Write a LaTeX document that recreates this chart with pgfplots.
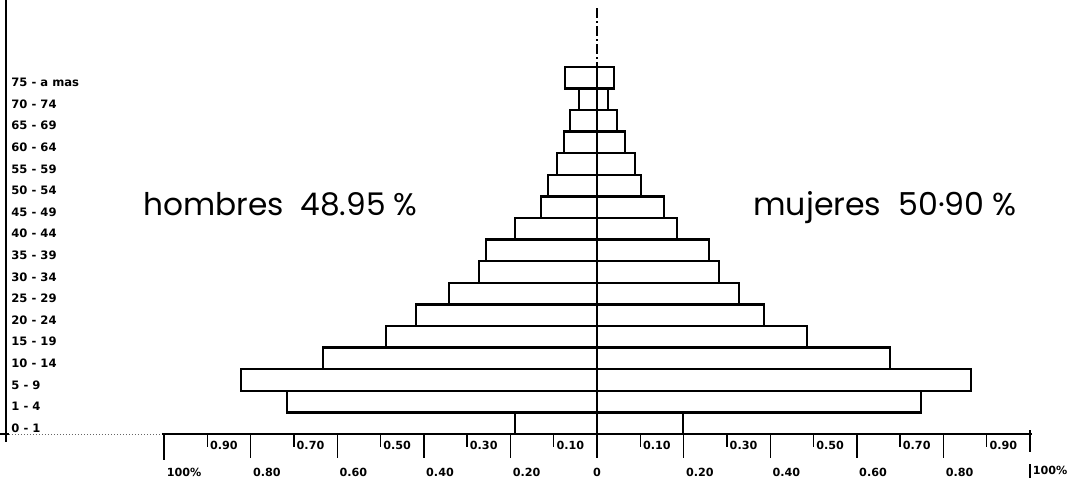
\documentclass[border=0pt]{standalone}
\usepackage{pgfplots}
\pgfplotsset{compat=1.18}
\usepackage{fontspec}
\setmainfont{DejaVu Sans}
\newfontfamily\bigf{Poppins}
\newcommand{\lab}{\fontsize{5.8}{6.5}\selectfont\bfseries}
\newcommand{\tlab}{\fontsize{5.6}{6.5}\selectfont\bfseries}
\begin{document}
\begin{tikzpicture}
\begin{axis}[width=536pt,height=239.5pt,scale only axis,
  xmin=-1.37875,xmax=1.09700,ymin=-2.58333,ymax=19.59259,
  axis lines=none, clip=false]
% hombres (left)
\addplot[xbar,bar width=1,bar shift=0pt,draw=black,fill=none,line width=1.2pt,line join=miter]
 coordinates {(-0.189,0) (-0.716,1) (-0.822,2) (-0.633,3) (-0.487,4) (-0.418,5)
  (-0.342,6) (-0.273,7) (-0.256,8) (-0.189,9) (-0.129,10) (-0.113,11)
  (-0.092,12) (-0.076,13) (-0.062,14) (-0.042,15) (-0.074,16)};
% mujeres (right)
\addplot[xbar,bar width=1,bar shift=0pt,draw=black,fill=none,line width=1.2pt,line join=miter]
 coordinates {(0.199,0) (0.748,1) (0.864,2) (0.677,3) (0.485,4) (0.386,5)
  (0.328,6) (0.282,7) (0.259,8) (0.185,9) (0.155,10) (0.102,11)
  (0.088,12) (0.065,13) (0.046,14) (0.025,15) (0.039,16)};
% centre dash-dot line
\draw[line width=0.8pt,dash pattern=on 5pt off 1.5pt on 1pt off 1.5pt] (axis cs:0,19.22) -- (axis cs:0,-0.5);
% left vertical line and small tick
\draw[line width=1pt] (axis cs:-1.3649,19.5926) -- (axis cs:-1.3649,-0.87);
\draw[line width=0.8pt] (axis cs:-1.3788,-0.5) -- (axis cs:-1.358,-0.5);
\draw[densely dotted,line width=0.5pt,black!60] (axis cs:-1.358,-0.5) -- (axis cs:-1.009,-0.5);
% bottom axis
\draw[line width=1pt] (axis cs:-1.005,-0.5) -- (axis cs:1.005,-0.5);
\pgfplotsinvokeforeach{-0.9,-0.7,-0.5,-0.3,-0.1,0.1,0.3,0.5,0.7,0.9}{
  \draw[line width=0.7pt] (axis cs:#1,-0.5) -- (axis cs:#1,-1.102);}
\pgfplotsinvokeforeach{-0.8,-0.6,-0.4,-0.2,0,0.2,0.4,0.6,0.8}{
  \draw[line width=0.7pt] (axis cs:#1,-0.5) -- (axis cs:#1,-1.611);}
\draw[line width=0.7pt] (axis cs:-1.0,-0.5) -- (axis cs:-1.0,-1.704);
\draw[line width=0.7pt] (axis cs:1.0,-0.315) -- (axis cs:1.0,-1.333);
\draw[line width=0.6pt] (axis cs:1.0,-1.90) -- (axis cs:1.0,-2.55);
% odd labels (upper row)
\node[anchor=west,inner sep=0pt,xshift=1.2pt] at (axis cs:-0.9,-1.009) {\tlab 0.90};
\node[anchor=west,inner sep=0pt,xshift=1.2pt] at (axis cs:-0.7,-1.009) {\tlab 0.70};
\node[anchor=west,inner sep=0pt,xshift=1.2pt] at (axis cs:-0.5,-1.009) {\tlab 0.50};
\node[anchor=west,inner sep=0pt,xshift=1.2pt] at (axis cs:-0.3,-1.009) {\tlab 0.30};
\node[anchor=west,inner sep=0pt,xshift=1.2pt] at (axis cs:-0.1,-1.009) {\tlab 0.10};
\node[anchor=west,inner sep=0pt,xshift=1.2pt] at (axis cs:0.1,-1.009) {\tlab 0.10};
\node[anchor=west,inner sep=0pt,xshift=1.2pt] at (axis cs:0.3,-1.009) {\tlab 0.30};
\node[anchor=west,inner sep=0pt,xshift=1.2pt] at (axis cs:0.5,-1.009) {\tlab 0.50};
\node[anchor=west,inner sep=0pt,xshift=1.2pt] at (axis cs:0.7,-1.009) {\tlab 0.70};
\node[anchor=west,inner sep=0pt,xshift=1.2pt] at (axis cs:0.9,-1.009) {\tlab 0.90};
% even labels (lower row)
\node[anchor=west,inner sep=0pt,xshift=1.2pt] at (axis cs:-1.0,-2.259) {\tlab 100\%};
\node[anchor=west,inner sep=0pt,xshift=1pt] at (axis cs:-0.8,-2.259) {\tlab 0.80};
\node[anchor=west,inner sep=0pt,xshift=1pt] at (axis cs:-0.6,-2.259) {\tlab 0.60};
\node[anchor=west,inner sep=0pt,xshift=1pt] at (axis cs:-0.4,-2.259) {\tlab 0.40};
\node[anchor=west,inner sep=0pt,xshift=1pt] at (axis cs:-0.2,-2.259) {\tlab 0.20};
\node[anchor=center,inner sep=0pt] at (axis cs:0,-2.259) {\tlab 0};
\node[anchor=west,inner sep=0pt,xshift=1pt] at (axis cs:0.2,-2.259) {\tlab 0.20};
\node[anchor=west,inner sep=0pt,xshift=1pt] at (axis cs:0.4,-2.259) {\tlab 0.40};
\node[anchor=west,inner sep=0pt,xshift=1pt] at (axis cs:0.6,-2.259) {\tlab 0.60};
\node[anchor=west,inner sep=0pt,xshift=1pt] at (axis cs:0.8,-2.259) {\tlab 0.80};
\node[anchor=west,inner sep=0pt,xshift=1.2pt] at (axis cs:1.0,-2.2) {\tlab 100\%};
% age group labels
\node[anchor=west,inner sep=0pt] at (axis cs:-1.3533,15.77) {\lab 75 - a mas};
\node[anchor=west,inner sep=0pt] at (axis cs:-1.3533,14.77) {\lab 70 - 74};
\node[anchor=west,inner sep=0pt] at (axis cs:-1.3533,13.77) {\lab 65 - 69};
\node[anchor=west,inner sep=0pt] at (axis cs:-1.3533,12.77) {\lab 60 - 64};
\node[anchor=west,inner sep=0pt] at (axis cs:-1.3533,11.77) {\lab 55 - 59};
\node[anchor=west,inner sep=0pt] at (axis cs:-1.3533,10.77) {\lab 50 - 54};
\node[anchor=west,inner sep=0pt] at (axis cs:-1.3533,9.77) {\lab 45 - 49};
\node[anchor=west,inner sep=0pt] at (axis cs:-1.3533,8.77) {\lab 40 - 44};
\node[anchor=west,inner sep=0pt] at (axis cs:-1.3533,7.77) {\lab 35 - 39};
\node[anchor=west,inner sep=0pt] at (axis cs:-1.3533,6.77) {\lab 30 - 34};
\node[anchor=west,inner sep=0pt] at (axis cs:-1.3533,5.77) {\lab 25 - 29};
\node[anchor=west,inner sep=0pt] at (axis cs:-1.3533,4.77) {\lab 20 - 24};
\node[anchor=west,inner sep=0pt] at (axis cs:-1.3533,3.77) {\lab 15 - 19};
\node[anchor=west,inner sep=0pt] at (axis cs:-1.3533,2.77) {\lab 10 - 14};
\node[anchor=west,inner sep=0pt] at (axis cs:-1.3533,1.77) {\lab 5 - 9};
\node[anchor=west,inner sep=0pt] at (axis cs:-1.3533,0.77) {\lab 1 - 4};
\node[anchor=west,inner sep=0pt] at (axis cs:-1.3533,-0.23) {\lab 0 - 1};
% big texts
\node[anchor=base west,inner sep=0pt] at (axis cs:-1.0485,9.62) {\bigf\fontsize{15.6}{18}\selectfont hombres\ \ 48.95 \%};
\node[anchor=base west,inner sep=0pt] at (axis cs:0.3603,9.62) {\bigf\fontsize{15.8}{18}\selectfont mujeres\ \ 50·90 \%};
\coordinate (SW) at (rel axis cs:0,0);
\coordinate (NE) at (rel axis cs:1,1);
\end{axis}
\pgfresetboundingbox
\path[use as bounding box] (SW) rectangle (NE);
\end{tikzpicture}
\end{document}
